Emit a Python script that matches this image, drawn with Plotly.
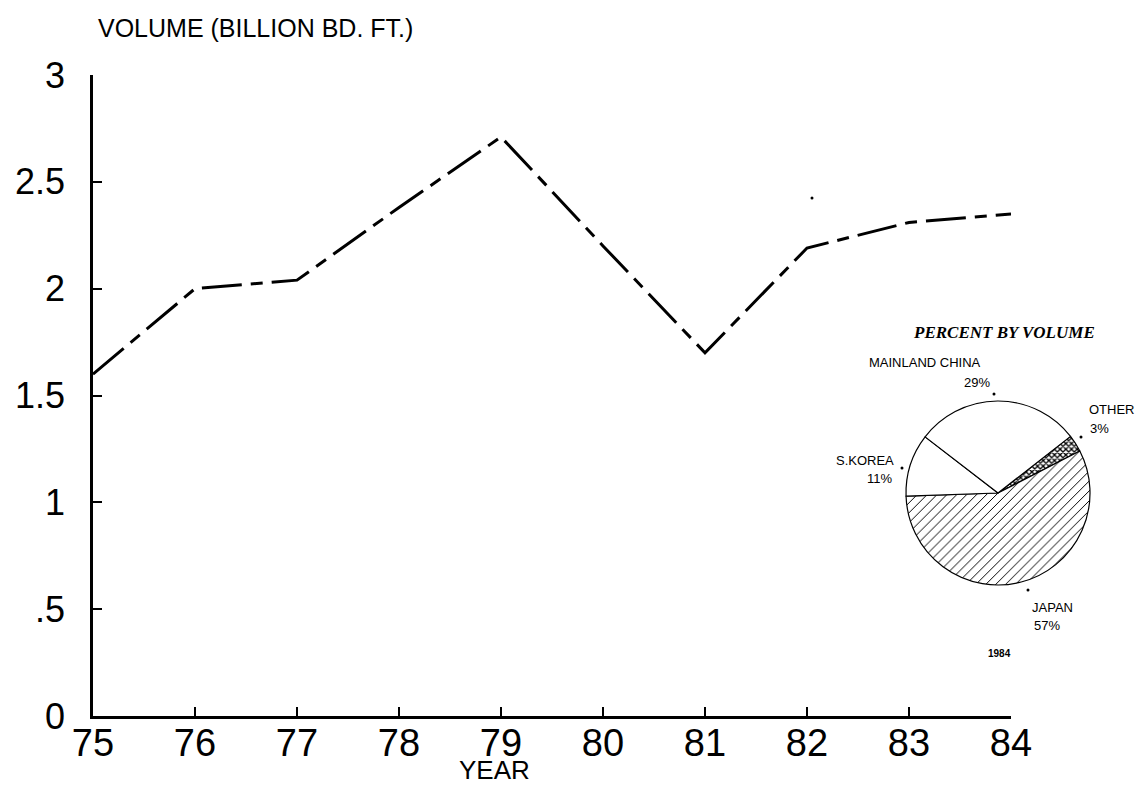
import plotly.graph_objects as go

# ---- data ----
years = [75, 76, 77, 78, 79, 80, 81, 82, 83, 84]
volume = [1.6, 2.0, 2.04, 2.38, 2.71, 2.2, 1.7, 2.19, 2.31, 2.35]
y_ticks = [0, 0.5, 1, 1.5, 2, 2.5, 3]
y_ticktext = ["0", ".5", "1", "1.5", "2", "2.5", "3"]
x_ticktext = ["75", "76", "77", "78", "79", "80", "81", "82", "83", "84"]

pie_labels = ["OTHER", "JAPAN", "S.KOREA", "MAINLAND CHINA"]
pie_values = [3, 57, 11, 29]

# page body has an 8px margin; work in screenshot pixels and convert
OFF = 8
W, H = 1130, 777
AX_L, AX_R, AX_T, AX_B = 93, 1011, 75, 716   # screenshot pixels of plot area
ML = AX_L - OFF
MT = AX_T - OFF
MB = H - (AX_B - OFF)
MR = 20
PW = W - ML - MR
PH = H - MT - MB


def px(x):
    return (x - OFF - ML) / PW


def py(y):
    return (H - MB - (y - OFF)) / PH


fig = go.Figure()

fig.add_trace(go.Scatter(
    x=years, y=volume, mode="lines",
    line=dict(color="black", width=3, dash="40px,9px,12px,9px"),
    showlegend=False, hoverinfo="skip",
))

# pie inset
cx, cy, r = 998, 493, 92
fig.add_trace(go.Pie(
    labels=pie_labels, values=pie_values, sort=False,
    direction="clockwise", rotation=52,
    textinfo="none", showlegend=False, hoverinfo="label+percent",
    domain=dict(x=[px(cx - r), px(cx + r)], y=[py(cy + r), py(cy - r)]),
    marker=dict(
        colors=["white", "white", "white", "white"],
        line=dict(color="black", width=1.2),
        pattern=dict(
            shape=["x", "/", "", ""],
            fgcolor=["black", "black", "black", "black"],
            bgcolor=["white", "white", "white", "white"],
            size=[4, 7, 8, 8],
            solidity=[0.55, 0.14, 0.2, 0.2],
        ),
    ),
))

fig.update_xaxes(
    range=[75, 84], domain=[0, (AX_R - AX_L) / PW], automargin=False,
    tickvals=years, ticktext=x_ticktext,
    showline=True, linecolor="black", linewidth=2.5,
    ticks="inside", ticklen=9, tickwidth=2, tickcolor="black",
    showgrid=False, zeroline=False,
    tickfont=dict(family="Liberation Sans, Arial", size=38, color="black"),
    ticklabelstandoff=-8,
)
fig.update_yaxes(
    range=[0, 3], automargin=False,
    tickvals=y_ticks, ticktext=y_ticktext,
    showline=True, linecolor="black", linewidth=2.5,
    ticks="inside", ticklen=9, tickwidth=2, tickcolor="black",
    showgrid=False, zeroline=False,
    tickfont=dict(family="Liberation Sans, Arial", size=36, color="black"),
    ticklabelstandoff=18,
)


def A(text, x, y, xa="center", size=13, family="Liberation Sans, Arial"):
    return dict(text=text, x=px(x), y=py(y), xref="paper", yref="paper",
                xanchor=xa, yanchor="middle", showarrow=False,
                font=dict(family=family, size=size, color="black"))


ann = [
    A("VOLUME (BILLION BD. FT.)", 96, 28, "left", 25),
    A("YEAR", 494, 770, "center", 26),
    A("<b><i>PERCENT BY VOLUME</i></b>", 1004, 333, "center", 17,
      "Liberation Serif, Times New Roman"),
    A("MAINLAND CHINA", 925, 362, "center"),
    A("29%", 977, 382, "center"),
    A("OTHER", 1087, 410, "left"),
    A("3%", 1088, 428, "left"),
    A("S.KOREA", 896, 460, "right"),
    A("11%", 894, 478, "right"),
    A("JAPAN", 1030, 607, "left"),
    A("57%", 1032, 625, "left"),
    A("<b>1984</b>", 999, 653, "center", 10),
]

shapes = []
for (dx, dy) in [(994, 394), (1081, 437), (902, 468), (1028, 590), (812, 198)]:
    shapes.append(dict(type="circle", xref="paper", yref="paper",
                       x0=px(dx - 1.5), x1=px(dx + 1.5), y0=py(dy + 1.5), y1=py(dy - 1.5),
                       fillcolor="black", line=dict(width=0)))

fig.update_layout(
    width=W, height=H,
    margin=dict(l=ML, r=MR, t=MT, b=MB),
    paper_bgcolor="white", plot_bgcolor="white",
    annotations=ann, shapes=shapes,
)

fig.write_html("out.html")
